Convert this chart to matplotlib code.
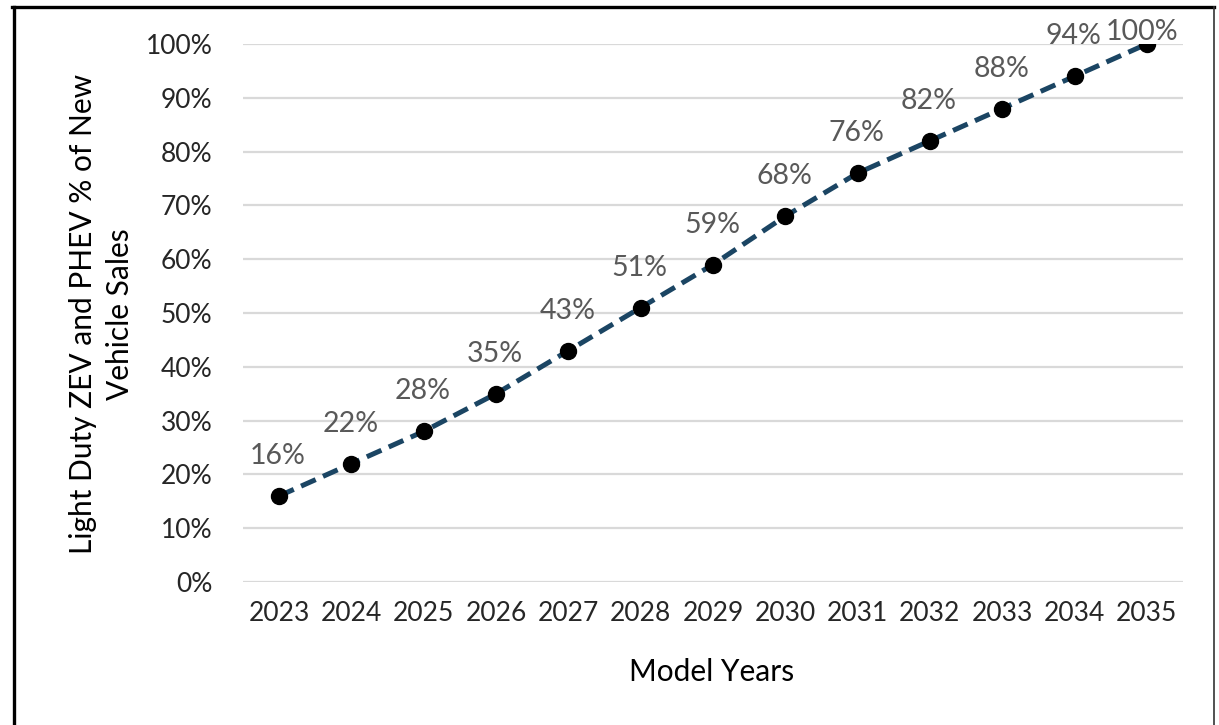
import matplotlib
matplotlib.use("Agg")
import matplotlib.pyplot as plt
from matplotlib.lines import Line2D

years = ["2023", "2024", "2025", "2026", "2027", "2028", "2029",
         "2030", "2031", "2032", "2033", "2034", "2035"]
share = [16, 22, 28, 35, 43, 51, 59, 68, 76, 82, 88, 94, 100]
ytick_vals = [0, 10, 20, 30, 40, 50, 60, 70, 80, 90, 100]

plt.rcParams['font.family'] = ['Lato', 'DejaVu Sans']

W, H = 1219, 725
fig = plt.figure(figsize=(W / 100, H / 100), dpi=100)
ax = fig.add_axes([243 / W, (H - 582) / H, (1183 - 243) / W, (582 - 44) / H])

x = list(range(len(years)))
y = [v / 100 for v in share]
ax.plot(x, y, color='#1b4563', lw=3.6, ls=(0, (3.2, 1.6)), zorder=3,
        solid_capstyle='butt', dash_capstyle='butt')
ax.plot(x, y, ls='none', marker='o', ms=11.5, color='black', zorder=4)

for xi, yi, v in zip(x, y, share):
    if v >= 100:
        ax.annotate(f"{v}%", (xi, yi), xytext=(-5, 12), textcoords='offset pixels',
                    ha='center', va='center', fontsize=20.5, color='#595959', zorder=5)
    else:
        ax.annotate(f"{v}%", (xi, yi), xytext=(-1, 40), textcoords='offset pixels',
                    ha='center', va='center', fontsize=20.5, color='#595959', zorder=5)

ax.set_xlim(-0.5, len(years) - 0.5)
ax.set_ylim(0, 1.0)
ax.set_yticks([v / 100 for v in ytick_vals])
ax.set_yticklabels([f"{v}%" for v in ytick_vals])
ax.set_xticks(x)
ax.set_xticklabels(years)
ax.tick_params(axis='both', length=0, labelsize=19, labelcolor='#262626')
ax.tick_params(axis='y', pad=22)
ax.tick_params(axis='x', pad=14)
ax.yaxis.grid(True, color='#d9d9d9', lw=1.6)
ax.set_axisbelow(True)
for s in ax.spines.values():
    s.set_visible(False)

fig.text(712 / W, 1 - 672 / H, "Model Years", ha='center', va='center',
         fontsize=21.5, color='black')
fig.text(83 / W, 1 - 314 / H, "Light Duty ZEV and PHEV % of New", ha='center',
         va='center', rotation=90, fontsize=21.5, color='black')
fig.text(120 / W, 1 - 314 / H, "Vehicle Sales", ha='center',
         va='center', rotation=90, fontsize=21.5, color='black')

# outer frame (cropped at bottom)
fig.add_artist(Line2D([13.5 / W, 13.5 / W], [0, 1 - 6.5 / H], transform=fig.transFigure,
                      color='black', lw=2.4))
fig.add_artist(Line2D([12 / W, 1214 / W], [1 - 6.5 / H, 1 - 6.5 / H], transform=fig.transFigure,
                      color='black', lw=2.4))
fig.add_artist(Line2D([1213.5 / W, 1213.5 / W], [0, 1 - 6.5 / H], transform=fig.transFigure,
                      color='#333333', lw=1.2))

fig.savefig("out.png", dpi=100, facecolor='white')
